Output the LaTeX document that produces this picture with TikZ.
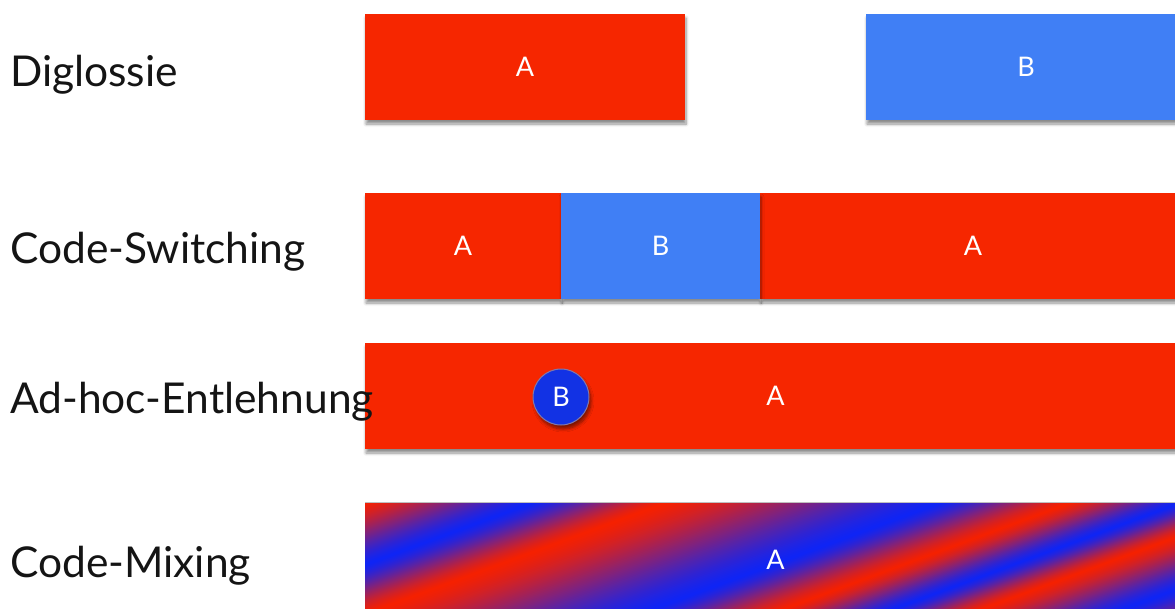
\documentclass[tikz,border=0pt]{standalone}
\usepackage{fontspec}
\setmainfont{Lato}
\usetikzlibrary{shadows.blur}
\definecolor{cred}{RGB}{246,38,0}
\definecolor{cblue}{RGB}{64,127,245}
\definecolor{circblue}{RGB}{18,50,228}
\definecolor{mixred}{RGB}{246,32,0}
\definecolor{mixblue}{RGB}{14,36,246}
\definecolor{labcol}{RGB}{20,20,20}
\tikzset{
  bar/.style={rectangle, inner sep=0pt, text=white, font=\fontsize{27}{30}\selectfont,
    blur shadow={shadow xshift=1pt, shadow yshift=-4pt, shadow blur radius=3pt, shadow blur steps=6, shadow opacity=45}},
  lab/.style={anchor=base west, inner sep=0pt, text=labcol, font=\fontsize{42.5}{48}\selectfont},
  dot/.style={circle, inner sep=0pt, minimum size=56pt, fill=circblue, draw={rgb,255:red,130;green,120;blue,170}, line width=1pt,
    text=white, font=\fontsize{27}{30}\selectfont,
    blur shadow={shadow xshift=2pt, shadow yshift=-4pt, shadow blur radius=3pt, shadow blur steps=6, shadow opacity=50}}
}
\begin{document}
\begin{tikzpicture}[x=1pt,y=-1pt]
\useasboundingbox (0,0) rectangle (1175,608);
\clip (0,0) rectangle (1175,608);
% Diglossie
\node[bar, fill=cred, minimum width=320pt, minimum height=106pt] (dA) at (525,67) {A};
\node[bar, fill=cblue, minimum width=320pt, minimum height=106pt] (dB) at (1026,67) {B};
% Code-Switching
\node[bar, fill=cred, minimum width=196pt, minimum height=106pt] (sA1) at (463,246) {A};
\node[bar, fill=cred, minimum width=426pt, minimum height=106pt] (sA2) at (973,246) {A};
\node[bar, fill=cblue, minimum width=199pt, minimum height=106pt] (sB) at (660.5,246) {B};
% Ad-hoc
\node[bar, fill=cred, minimum width=821pt, minimum height=106pt] (eA) at (775.5,396) {A};
\node[dot] (eB) at (561,397) {B};
% Code-Mixing
\begin{scope}
\clip (365,502) rectangle (1186,620);
\foreach \sa/\sb/\ca/\cb in {150/222/0/0, 222/392/0/100, 392/525/100/0, 525/800/0/100, 800/930/100/0, 930/1040/0/100, 1040/1128/100/0, 1128/1270/0/100, 1270/1360/100/40}{
  \foreach \i in {1,...,60}{
    \pgfmathsetmacro\so{\sa+(\sb-\sa)/60*(\i-1)}
    \pgfmathsetmacro\st{\sa+(\sb-\sa)/60*\i+3.5}
    \pgfmathsetmacro\t{max(0,min(100,\ca+(\cb-\ca)*(0.5*(1-cos(3*(\i-0.5)))/2+0.5*(\i-0.5)/60)))}
    \fill[mixblue!\t!mixred] (\so+162,495) -- (\st+162,495) -- (\st-162,615) -- (\so-162,615) -- cycle;
  }
}
\end{scope}
\draw[black!25, line width=0.6pt] (365,502) -- (1186,502);
\node[inner sep=0pt, minimum width=821pt, minimum height=116pt, text=white, font=\fontsize{27}{30}\selectfont] (mA) at (775.5,560) {A};
% labels (drawn last, the last one overlaps the bar)
\node[lab] (l1) at (10,86) {Diglossie};
\node[lab] (l2) at (10,263) {Code-Switching};
\node[lab] (l3) at (10,413) {Ad-hoc-Entlehnung};
\node[lab] (l4) at (10,577) {Code-Mixing};
\end{tikzpicture}
\end{document}
